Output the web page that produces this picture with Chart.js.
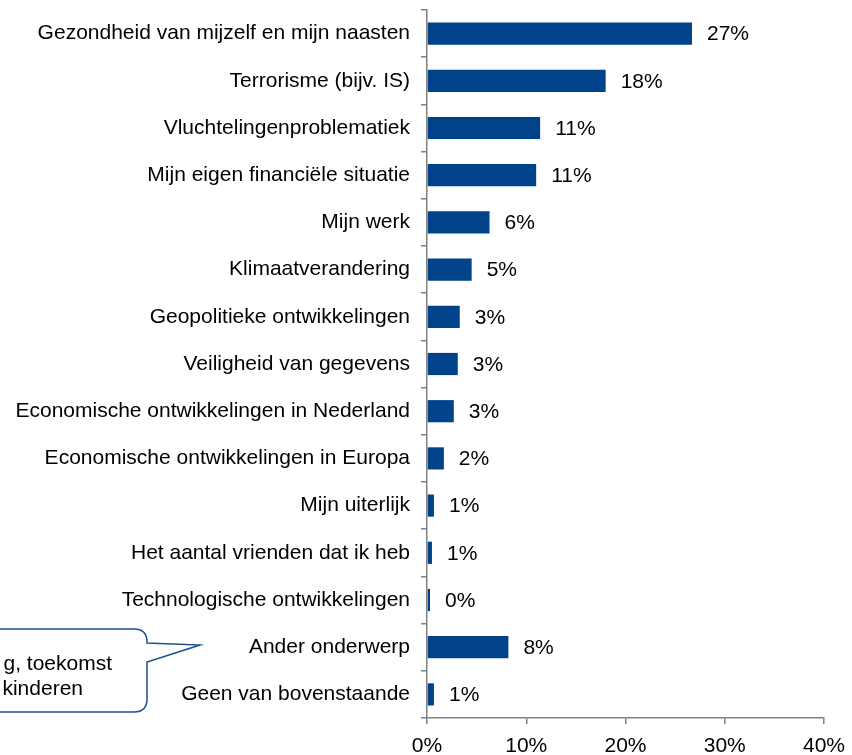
<!DOCTYPE html>
<html>
<head>
<meta charset="utf-8">
<script src="https://cdn.jsdelivr.net/npm/chart.js@4/dist/chart.umd.min.js"></script>
<style>
html,body{margin:0;padding:0;background:#fff;}
#wrap{width:852px;height:755px;position:relative;}
</style>
</head>
<body>
<div id="wrap"><canvas id="c" width="852" height="755"></canvas></div>
<script>
const categories = [
  "Gezondheid van mijzelf en mijn naasten",
  "Terrorisme (bijv. IS)",
  "Vluchtelingenproblematiek",
  "Mijn eigen financiële situatie",
  "Mijn werk",
  "Klimaatverandering",
  "Geopolitieke ontwikkelingen",
  "Veiligheid van gegevens",
  "Economische ontwikkelingen in Nederland",
  "Economische ontwikkelingen in Europa",
  "Mijn uiterlijk",
  "Het aantal vrienden dat ik heb",
  "Technologische ontwikkelingen",
  "Ander onderwerp",
  "Geen van bovenstaande"
];
const values = [26.7, 18.0, 11.4, 11.0, 6.3, 4.5, 3.3, 3.1, 2.7, 1.7, 0.7, 0.5, 0.3, 8.2, 0.7];
const valueLabels = ["27%", "18%", "11%", "11%", "6%", "5%", "3%", "3%", "3%", "2%", "1%", "1%", "0%", "8%", "1%"];
const xTicks = [0, 10, 20, 30, 40];
const calloutLines = ["g, toekomst", "kinderen"];

const FONT = "'Liberation Sans', Arial, sans-serif";
const AXIS = "#808080";
const BAR = "#00438A";

const valueLabelPlugin = {
  id: 'valueLabels',
  afterDatasetsDraw(chart) {
    const ctx = chart.ctx;
    const meta = chart.getDatasetMeta(0);
    ctx.save();
    ctx.font = "21px " + FONT;
    ctx.fillStyle = "#000";
    ctx.textBaseline = "middle";
    ctx.textAlign = "left";
    meta.data.forEach((bar, i) => {
      ctx.fillText(valueLabels[i], bar.x + 15, bar.y + 1);
    });
    ctx.restore();
  }
};

const calloutPlugin = {
  id: 'callout',
  afterDraw(chart) {
    const ctx = chart.ctx;
    const L = -60, R = 147, T = 629, B = 712, r = 13;
    const tipX = 200, tipY = 645, p1 = 643, p2 = 662;
    ctx.save();
    ctx.beginPath();
    ctx.moveTo(L + r, T);
    ctx.lineTo(R - r, T);
    ctx.quadraticCurveTo(R, T, R, T + r);
    ctx.lineTo(R, p1);
    ctx.lineTo(tipX, tipY);
    ctx.lineTo(R, p2);
    ctx.lineTo(R, B - r);
    ctx.quadraticCurveTo(R, B, R - r, B);
    ctx.lineTo(L + r, B);
    ctx.quadraticCurveTo(L, B, L, B - r);
    ctx.lineTo(L, T + r);
    ctx.quadraticCurveTo(L, T, L + r, T);
    ctx.closePath();
    ctx.fillStyle = "#fff";
    ctx.fill();
    ctx.lineWidth = 1.5;
    ctx.strokeStyle = "#1F4E8C";
    ctx.stroke();
    ctx.font = "21px " + FONT;
    ctx.fillStyle = "#000";
    ctx.textBaseline = "middle";
    ctx.textAlign = "right";
    ctx.fillText(calloutLines[0], 112, 664);
    ctx.fillText(calloutLines[1], 83, 689);
    ctx.restore();
  }
};

new Chart(document.getElementById('c'), {
  type: 'bar',
  data: {
    labels: categories,
    datasets: [{
      data: values,
      backgroundColor: BAR,
      borderWidth: 0,
      barPercentage: 0.47,
      categoryPercentage: 1.0
    }]
  },
  options: {
    indexAxis: 'y',
    responsive: false,
    animation: false,
    devicePixelRatio: 1,
    layout: { padding: { top: 10, right: 28, left: 0, bottom: 0 } },
    plugins: { legend: { display: false }, tooltip: { enabled: false } },
    scales: {
      x: {
        min: 0, max: 40,
        afterBuildTicks(scale) { scale.ticks = xTicks.map(v => ({ value: v })); },
        afterFit(scale) { scale.height = 37; scale.paddingRight = 0; scale.paddingLeft = 0; },
        border: { color: AXIS, width: 1.5 },
        grid: { drawOnChartArea: false, drawTicks: true, tickLength: 6, color: AXIS, lineWidth: 1.5 },
        ticks: {
          color: "#000",
          font: { family: FONT, size: 21 },
          padding: 10,
          callback: v => v + "%"
        }
      },
      y: {
        afterFit(scale) { scale.width = 427; scale.paddingTop = 0; scale.paddingBottom = 0; },
        border: { color: AXIS, width: 1.5 },
        grid: { drawOnChartArea: false, drawTicks: true, tickLength: 6, color: AXIS, lineWidth: 1.5, offset: true },
        ticks: {
          color: "#000",
          font: { family: FONT, size: 21 },
          padding: 11,
          autoSkip: false
        }
      }
    }
  },
  plugins: [valueLabelPlugin, calloutPlugin]
});
</script>
</body>
</html>
